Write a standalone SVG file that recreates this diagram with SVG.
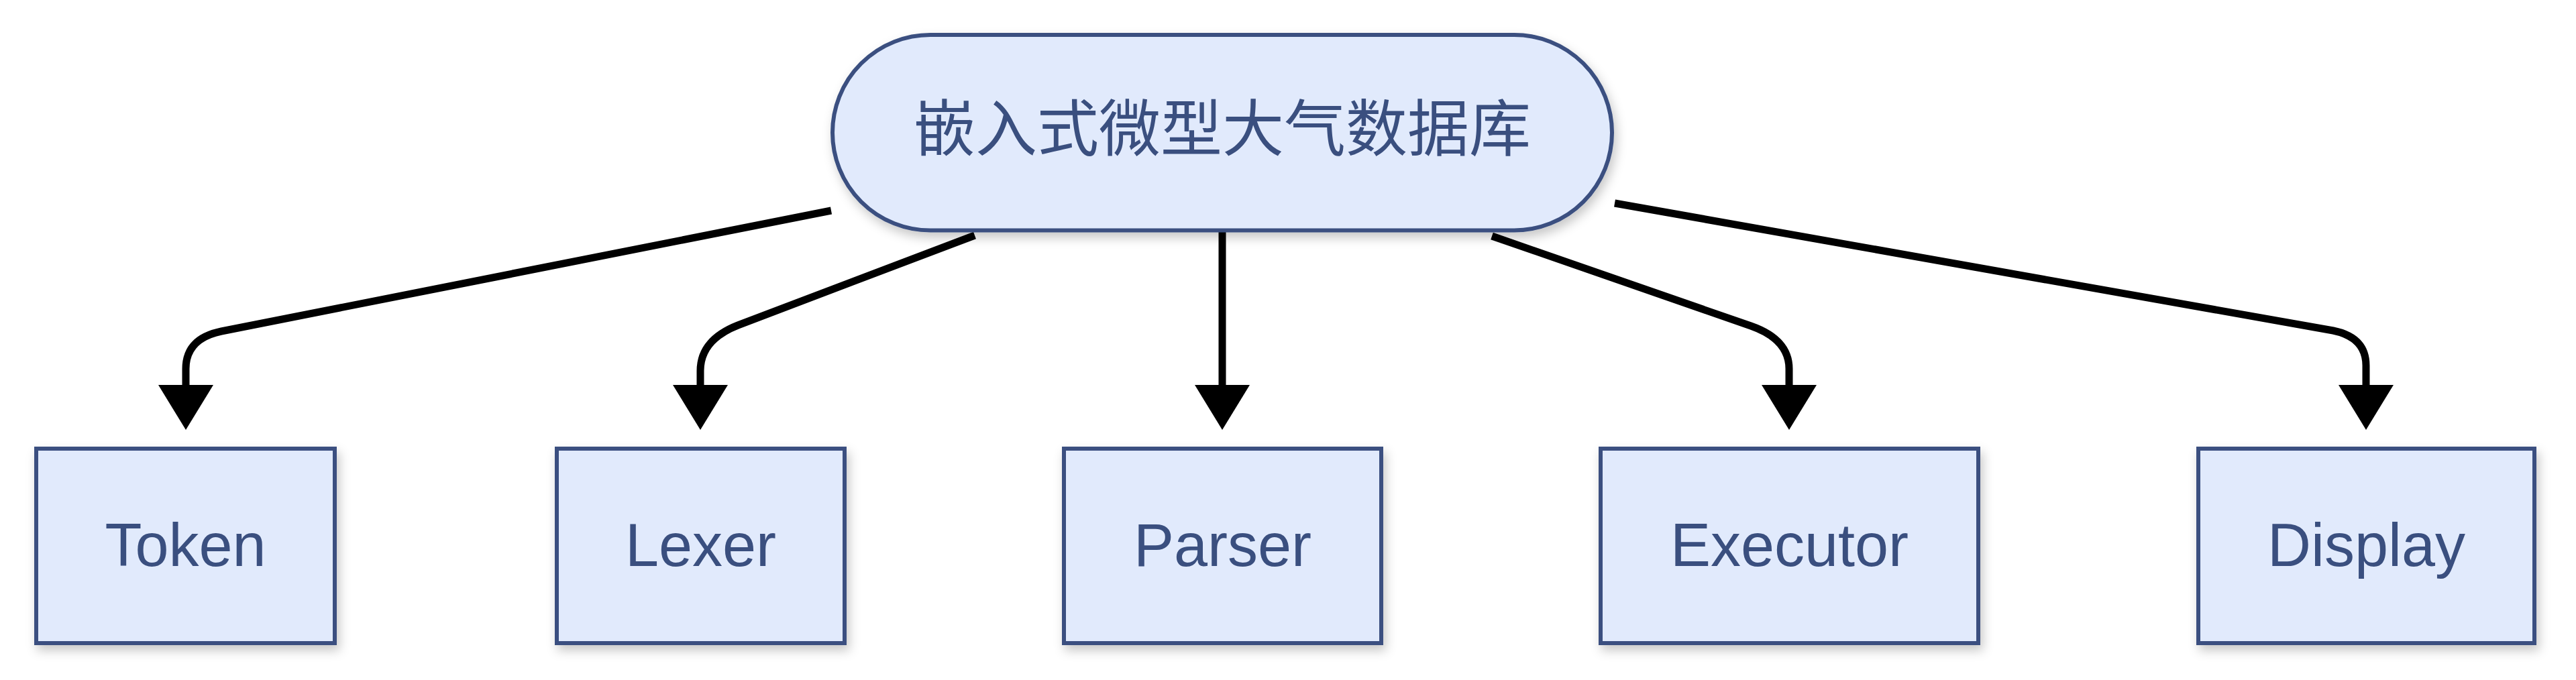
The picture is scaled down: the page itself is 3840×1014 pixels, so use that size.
<svg xmlns="http://www.w3.org/2000/svg" width="3840" height="1014" viewBox="0 0 3840 1014">
<style>
.node{fill:#E1EAFC;stroke:#3A5080;stroke-width:6;filter:url(#sh)}
.lbl{font-family:"Liberation Sans",Arial,sans-serif;font-size:90px;fill:#3A4F7F;text-anchor:middle}
.cjk{font-family:"Liberation Sans","Noto Sans CJK SC",sans-serif;font-size:92px;fill:#3A4F7F;text-anchor:middle;dominant-baseline:central}
.edge{fill:none;stroke:#000;stroke-width:11;marker-end:url(#arr)}
</style>
<defs>
<filter id="sh" x="-10%" y="-10%" width="130%" height="140%">
<feDropShadow dx="4" dy="8" stdDeviation="8" flood-color="#000" flood-opacity="0.22"/>
</filter>
<marker id="arr" markerUnits="userSpaceOnUse" viewBox="0 0 67 82" markerWidth="67" markerHeight="82" refX="0" refY="41" orient="auto">
<path d="M0,0 L67,41 L0,82 z" fill="#000"/>
</marker>
</defs>
<g id="edges">
<path class="edge" d="M1239,314 L330,494 Q277,505 277,550 L277,574"/>
<path class="edge" d="M1453,351 L1100,485 Q1044,507 1044,553 L1044,574"/>
<path class="edge" d="M1822,346 L1822,574"/>
<path class="edge" d="M2224,352 L2610,486 Q2667,506 2667,550 L2667,574"/>
<path class="edge" d="M2407,303 L3478,493 Q3527,503 3527,545 L3527,574"/>
</g>
<g id="root">
<rect class="node" x="1241" y="52" width="1162" height="291.5" rx="145.75" ry="145.75"/>
<text class="cjk" x="1822" y="193">嵌入式微型大气数据库</text>
</g>
<g id="token">
<rect class="node" x="54" y="669" width="445" height="290"/>
<text class="lbl" x="276.5" y="844">Token</text>
</g>
<g id="lexer">
<rect class="node" x="830" y="669" width="429" height="290"/>
<text class="lbl" x="1044.5" y="844">Lexer</text>
</g>
<g id="parser">
<rect class="node" x="1586" y="669" width="473" height="290"/>
<text class="lbl" x="1822.5" y="844">Parser</text>
</g>
<g id="executor">
<rect class="node" x="2386" y="669" width="563" height="290"/>
<text class="lbl" x="2667.5" y="844">Executor</text>
</g>
<g id="display">
<rect class="node" x="3277" y="669" width="501" height="290"/>
<text class="lbl" x="3527.5" y="844">Display</text>
</g>
</svg>
